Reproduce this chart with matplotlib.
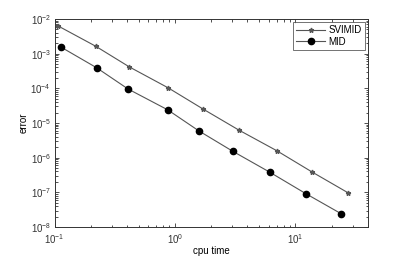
import matplotlib
matplotlib.use("Agg")
import matplotlib.pyplot as plt
from matplotlib.ticker import LogLocator, NullFormatter

plt.rcParams['font.family'] = ['Liberation Sans', 'DejaVu Sans']
plt.rcParams['mathtext.fontset'] = 'custom'
plt.rcParams['mathtext.rm'] = 'Liberation Sans'

svimid_t = [0.106, 0.220, 0.418, 0.879, 1.72, 3.38, 6.98, 13.7, 27.4]
svimid_err = [6.4e-3, 1.63e-3, 4.14e-4, 1.03e-4, 2.5e-5, 6.3e-6, 1.6e-6, 3.9e-7, 9.7e-8]
mid_t = [0.1125, 0.224, 0.407, 0.870, 1.57, 3.01, 6.14, 12.2, 24.1]
mid_err = [1.56e-3, 3.9e-4, 9.6e-5, 2.4e-5, 6.0e-6, 1.54e-6, 3.8e-7, 9.2e-8, 2.4e-8]

fig = plt.figure(figsize=(4.07, 2.56), dpi=100)
ax = fig.add_axes([0.134, 0.113, 0.770, 0.813])

ax.loglog(svimid_t, svimid_err, '-', color='#555555', lw=0.8, marker='*',
          markersize=3.5, markerfacecolor='#666666', markeredgecolor='#555555', label='SVIMID')
ax.loglog(mid_t, mid_err, '-', color='#555555', lw=0.8, marker='o',
          markersize=4.5, markerfacecolor='black', markeredgecolor='black', label='MID')

ax.set_xlim(0.1, 40)
ax.set_ylim(1e-8, 1e-2)
ax.yaxis.set_major_locator(LogLocator(base=10, numticks=20))
ax.yaxis.set_minor_locator(LogLocator(base=10, subs=range(2, 10), numticks=100))
ax.yaxis.set_minor_formatter(NullFormatter())
ax.xaxis.set_minor_formatter(NullFormatter())

ax.tick_params(which='both', direction='in', top=True, right=True, labelsize=7,
               colors='#333333', width=0.6)
ax.tick_params(which='major', length=3)
ax.tick_params(which='minor', length=1.8)
ax.tick_params(axis='x', which='major', pad=4)
ax.tick_params(axis='y', which='major', pad=2.5)
for s in ax.spines.values():
    s.set_linewidth(0.7)
    s.set_color('#333333')

ax.set_xlabel('cpu time', fontsize=7, labelpad=0)
ax.set_ylabel('error', fontsize=7, labelpad=1)

leg = ax.legend(loc='upper right', fontsize=7, frameon=True, fancybox=False,
                edgecolor='#333333', borderpad=0.3, handlelength=3.0,
                labelspacing=0.15, handletextpad=0.3, borderaxespad=0.35)
leg.get_frame().set_linewidth(0.6)

fig.savefig('out.png', dpi=100)
